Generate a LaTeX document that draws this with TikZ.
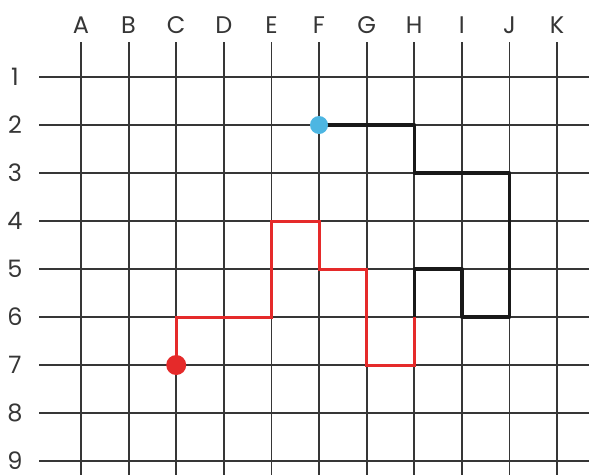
\documentclass[tikz,border=0pt]{standalone}
\usepackage{fontspec}
\setmainfont{Poppins}
\usepackage{xcolor}
\usepackage{tikz}
\usetikzlibrary{calc, positioning}

\definecolor{gridgray}{HTML}{363636}
\definecolor{pathred}{HTML}{E52A2A}
\definecolor{dotblue}{HTML}{4DB6E2}

\begin{document}
\begin{tikzpicture}[x=47.6pt, y=-48pt,
    gridline/.style={line width=1.8pt, gridgray},
    redpath/.style={line width=3pt, pathred, line join=miter},
    blackpath/.style={line width=3.4pt, black!90, line join=round},
    axislabel/.style={font=\fontsize{24}{24}\selectfont, text=gridgray, inner sep=0pt}]

    % =================================================================
    % 1. KHUNG VÀ TỌA ĐỘ CÁC NÚT LƯỚI
    % =================================================================
    \useasboundingbox[fill=white] (-0.7017,-0.6042) rectangle (11.672,9.2917);

    \foreach \col [count=\i] in {A,B,C,D,E,F,G,H,I,J,K} {
        \foreach \r in {1,...,9} {
            \coordinate (\col\r) at (\i,\r);
        }
    }

    % =================================================================
    % 2. VẼ LƯỚI Ô VUÔNG
    % =================================================================
    % Đường ngang theo từng hàng
    \foreach \r in {1,...,9} {
        \draw[gridline] (0.118,\r) -- (11.672,\r);
        \node[axislabel] (row\r) at (-0.387,\r) {\r};
    }
    % Đường dọc theo từng cột
    \foreach \col [count=\i] in {A,B,C,D,E,F,G,H,I,J,K} {
        \draw[gridline] (\i,0.271) -- (\i,9.2917);
        \node[axislabel] (head\col) at (\i,-0.083) {\col};
    }

    % =================================================================
    % 3. VẼ ĐƯỜNG ĐI (ĐỎ RỒI ĐEN)
    % =================================================================
    \draw[redpath] (C7) -- (C6) -- (E6) -- (E4) -- (F4) -- (F5)
        -- (G5) -- (G7) -- (H7) -- (H6);
    \draw[blackpath] (H6) -- (H5) -- (I5) -- (I6) -- (J6) -- (J3)
        -- (H3) -- (H2) -- (F2);

    % =================================================================
    % 4. ĐIỂM ĐẦU VÀ ĐIỂM CUỐI
    % =================================================================
    \fill[pathred] (C7) circle (10pt);
    \fill[dotblue] (F2) circle (9pt);

\end{tikzpicture}
\end{document}
